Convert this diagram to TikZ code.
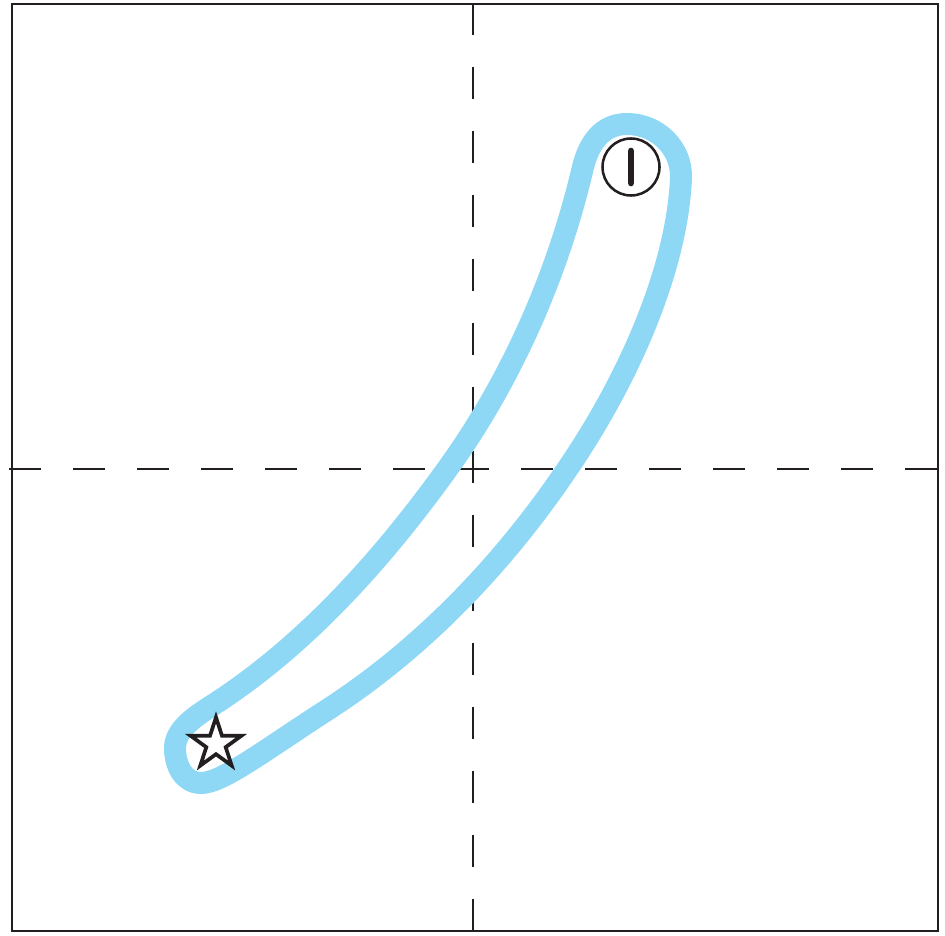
\documentclass[tikz,border=0pt]{standalone}
\usetikzlibrary{shapes.geometric}
\definecolor{inkgray}{HTML}{231F20}
\definecolor{loopblue}{HTML}{8ED8F6}
\begin{document}
\begin{tikzpicture}[x=0.75pt,y=-0.75pt,
    axisline/.style={draw=inkgray,line width=1.7pt,dash pattern=on 24pt off 24pt},
    marker/.style={draw=inkgray,fill=white,inner sep=0pt}]
    \useasboundingbox (0,0) rectangle (945,935);
    \draw[axisline] (9,469) -- (938,469);
    \draw[axisline] (473,3) -- (473,931);
    \draw[inkgray,line width=1.8pt] (12,4) rectangle (938,931);
    \draw[loopblue,line width=16.5pt,line join=round]
        (175,748) .. controls (175,728) and (199,714) .. (216,703)
        .. controls (308,643) and (384,557) .. (448,468)
        .. controls (512,379) and (558,274) .. (583,167)
        .. controls (589,143) and (602,124) .. (627,124)
        .. controls (657,124) and (682,148) .. (681,178)
        .. controls (677,270) and (628,380) .. (568,468)
        .. controls (504,563) and (423,648) .. (327,710)
        .. controls (262,752) and (222,783) .. (201,783)
        .. controls (184,783) and (175,766) .. cycle;
    \node[marker,circle,line width=1.9pt,minimum size=42.75pt] (stop) at (631,167) {};
    \draw[inkgray,line width=5pt,line cap=round] (stop.center) +(0,-16) -- +(0,16);
    \node[marker,star,star points=5,star point ratio=2.618,line width=2.8pt,minimum size=40pt] (start) at (216,744) {};
\end{tikzpicture}
\end{document}
